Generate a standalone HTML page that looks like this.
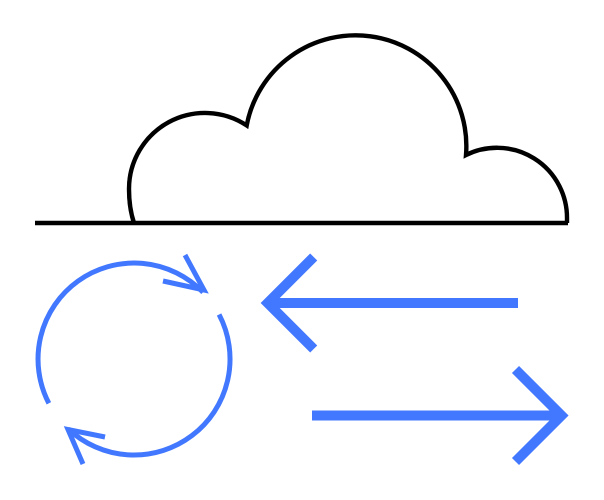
<!DOCTYPE html>
<html>
<head>
<meta charset="utf-8">
<style>
html,body{margin:0;padding:0;background:#fff;width:604px;height:500px;overflow:hidden}
svg{display:block}
</style>
</head>
<body>
<svg width="604" height="500" viewBox="0 0 604 500" xmlns="http://www.w3.org/2000/svg" fill="none">
  <!-- cloud -->
  <g stroke="#000" stroke-width="4.400" stroke-miterlimit="10">
    <path d="M134 223 C131 214 129 201 129 189 A76 76 0 0 1 246.700 125.450 A110.800 110.800 0 0 1 466 155 A70 70 0 0 1 567 218 L567 223"/>
    <path d="M35 223 H568" stroke-width="4.500"/>
  </g>
  <!-- cycle -->
  <g stroke="#4278ff" stroke-width="5" stroke-miterlimit="20">
    <path d="M48.850 403.300 A96 96 0 0 1 203.060 292.310"/>
    <path d="M219.080 314.520 A96 96 0 0 1 68.160 428.870"/>
    <path d="M185 255 L204 290 L163 281"/>
    <path d="M83 464 L68 429.500 L105 437"/>
  </g>
  <!-- arrows -->
  <g stroke="#4278ff" stroke-width="10" stroke-miterlimit="10">
    <path d="M518 303 H270"/>
    <path d="M313.700 257 L267.700 303 L313.700 349"/>
    <path d="M312 415.500 H560"/>
    <path d="M515.500 369.500 L561.500 415.500 L515.500 461.500"/>
  </g>
</svg>
</body>
</html>
